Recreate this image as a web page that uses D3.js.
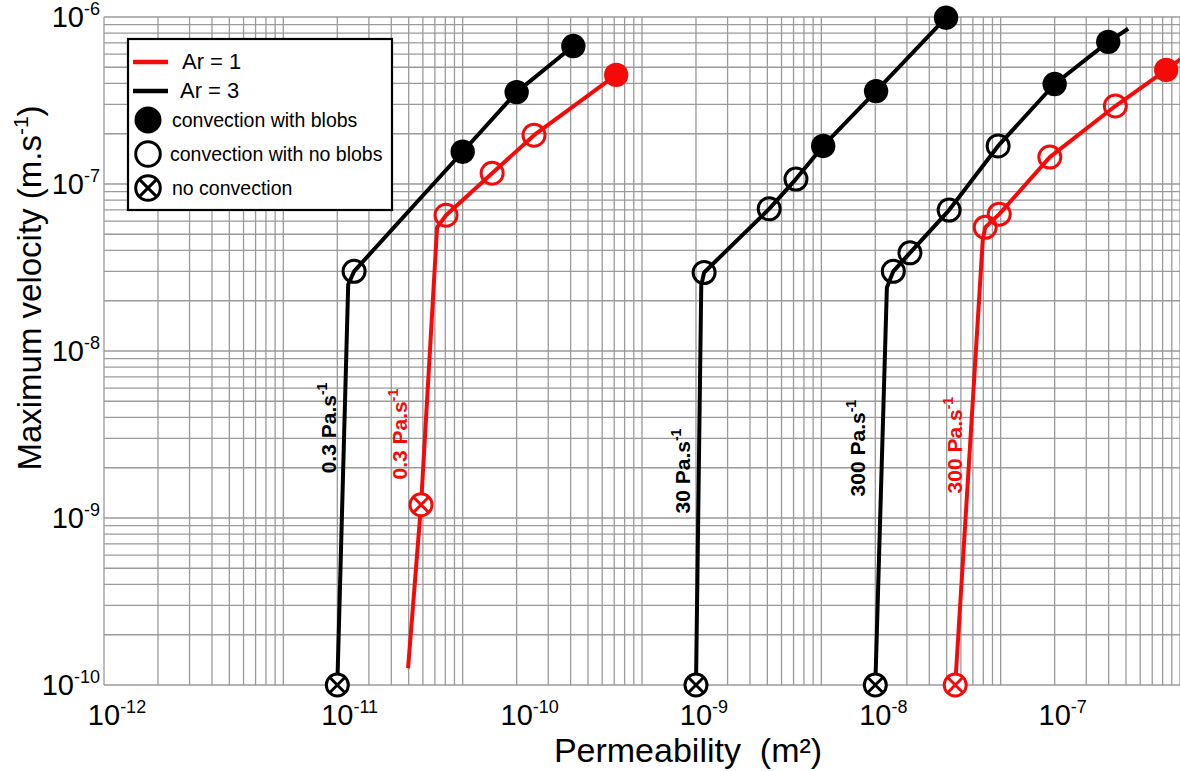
<!DOCTYPE html>
<html><head><meta charset="utf-8">
<script src="https://cdn.jsdelivr.net/npm/d3@7"></script>
<style>
body{margin:0;background:#fff}
svg{display:block;font-family:"Liberation Sans",Arial,sans-serif}
</style>
</head><body>
<svg id="chart" width="1180" height="771"></svg>
<script>
// ---------- axis / tick data ----------
const xTickValues = [1e-12, 1e-11, 1e-10, 1e-9, 1e-8, 1e-7];
const xTickExponents = ["-12", "-11", "-10", "-9", "-8", "-7"];
const yTickValues = [1e-10, 1e-9, 1e-8, 1e-7, 1e-6];
const yTickExponents = ["-10", "-9", "-8", "-7", "-6"];
const xGridMultipliers = [1, 1.5, 2, 2.5, 3, 3.5, 4, 4.5, 5];
const yGridMultipliers = [1, 2, 3, 4, 5, 6, 7, 8, 9];
const xDecades = [-13, -12, -11, -10, -9, -8, -7];
const yDecades = [-10, -9, -8, -7, -6];

// ---------- series (permeability m², max velocity m/s, point type) ----------
// type: "x" = no convection, "open" = convection with no blobs, "filled" = convection with blobs, "" = line vertex only
const ar3Visc03Perm = [1.0e-11, 1.15e-11, 1.24e-11, 5.0e-11, 1.0e-10, 2.07e-10];
const ar3Visc03Vel  = [1.0e-10, 2.5e-8, 3.0e-8, 1.56e-7, 3.55e-7, 6.7e-7];
const ar3Visc03Type = ["x", "", "open", "filled", "filled", "filled"];

const ar1Visc03Perm = [2.48e-11, 2.93e-11, 3.6e-11, 4.04e-11, 7.3e-11, 1.25e-10, 3.59e-10];
const ar1Visc03Vel  = [1.26e-10, 1.2e-9, 5.5e-8, 6.5e-8, 1.16e-7, 1.96e-7, 4.5e-7];
const ar1Visc03Type = ["", "x", "", "open", "open", "open", "filled"];

const ar3Visc30Perm = [1.0e-9, 1.07e-9, 1.11e-9, 2.56e-9, 3.61e-9, 5.12e-9, 1.01e-8, 2.48e-8];
const ar3Visc30Vel  = [1.0e-10, 2.47e-8, 2.95e-8, 7.1e-8, 1.07e-7, 1.69e-7, 3.6e-7, 9.9e-7];
const ar3Visc30Type = ["x", "", "open", "open", "open", "filled", "filled", "filled"];

const ar3Visc300Perm = [1.0e-8, 1.16e-8, 1.26e-8, 1.56e-8, 2.58e-8, 4.84e-8, 1.0e-7, 1.99e-7, 2.57e-7];
const ar3Visc300Vel  = [1.0e-10, 2.4e-8, 3.0e-8, 3.87e-8, 6.98e-8, 1.69e-7, 3.97e-7, 7.1e-7, 8.5e-7];
const ar3Visc300Type = ["x", "", "open", "open", "open", "open", "filled", "filled", ""];

const ar1Visc300Perm = [2.79e-8, 3.97e-8, 4.1e-8, 4.91e-8, 9.4e-8, 2.18e-7, 4.19e-7, 5.7e-7];
const ar1Visc300Vel  = [1.0e-10, 4.56e-8, 5.5e-8, 6.6e-8, 1.45e-7, 2.93e-7, 4.82e-7, 6.2e-7];
const ar1Visc300Type = ["x", "", "open", "open", "open", "open", "filled", ""];

// ---------- annotations ----------
const annotText  = ["0.3 Pa.s", "0.3 Pa.s", "30 Pa.s", "300 Pa.s", "300 Pa.s"];
const annotSup   = ["-1", "-1", "-1", "-1", "-1"];
const annotColor = ["black", "red", "black", "black", "red"];
const annotPerm  = [9.85e-12, 2.45e-11, 9.27e-10, 8.77e-9, 3.05e-8];
const annotVel   = [3.46e-9, 3.18e-9, 1.91e-9, 2.62e-9, 2.73e-9];

// ---------- legend ----------
const legendLabels = ["Ar = 1", "Ar = 3", "convection with blobs", "convection with no blobs", "no convection"];
const legendKinds  = ["line", "line", "filled", "open", "x"];
const legendColors = ["red", "black", "black", "black", "black"];

const RED = "#f50a0a";
const colorOf = c => c === "red" ? RED : "#000";

const curves = [
  {perm: ar3Visc03Perm, vel: ar3Visc03Vel, type: ar3Visc03Type, color: "black"},
  {perm: ar1Visc03Perm, vel: ar1Visc03Vel, type: ar1Visc03Type, color: "red"},
  {perm: ar3Visc30Perm, vel: ar3Visc30Vel, type: ar3Visc30Type, color: "black"},
  {perm: ar3Visc300Perm, vel: ar3Visc300Vel, type: ar3Visc300Type, color: "black"},
  {perm: ar1Visc300Perm, vel: ar1Visc300Vel, type: ar1Visc300Type, color: "red"}
];

// ---------- scales ----------
const svg = d3.select("#chart");
const x = d3.scaleLog().domain([5e-13, 5e-7]).range([104, 1180]);
const y = d3.scaleLog().domain([1e-10, 1e-6]).range([685, 17]);
const [xl, xr] = x.range();
const [yb, yt] = y.range();

// ---------- grid ----------
const eps = 1e-6;
const inDom = (v, s) => {
  const d = s.domain().map(Math.log10), l = Math.log10(v);
  return l >= d[0] - eps && l <= d[1] + eps;
};
const xGrid = [], yGrid = [];
xDecades.forEach(n => xGridMultipliers.forEach(m => { const v = m * Math.pow(10, n); if (inDom(v, x)) xGrid.push(v); }));
yDecades.forEach(n => yGridMultipliers.forEach(m => { const v = m * Math.pow(10, n); if (inDom(v, y)) yGrid.push(v); }));

const grid = svg.append("g").attr("stroke", "#9a9a9a").attr("stroke-width", 1.3);
grid.selectAll("line.v").data(xGrid).join("line").attr("class", "v")
  .attr("x1", d => x(d)).attr("x2", d => x(d)).attr("y1", yt).attr("y2", yb);
grid.selectAll("line.h").data(yGrid).join("line").attr("class", "h")
  .attr("x1", xl).attr("x2", xr).attr("y1", d => y(d)).attr("y2", d => y(d));

// ---------- tick labels ----------
const yLab = svg.append("g").attr("font-size", 29).attr("fill", "#000");
yTickValues.forEach((v, i) => {
  const t = yLab.append("text").attr("x", xl - 4).attr("y", y(v) + 10).attr("text-anchor", "end");
  t.append("tspan").text("10");
  t.append("tspan").attr("font-size", 18).attr("dy", -12).text(yTickExponents[i]);
});
const xLab = svg.append("g").attr("font-size", 29).attr("fill", "#000");
xTickValues.forEach((v, i) => {
  const pos = i === 0 ? xl : x(v);   // the reference sets the first label at the axis origin
  const t = xLab.append("text").attr("y", 725).attr("text-anchor", "start");
  t.append("tspan").text("10");
  t.append("tspan").attr("font-size", 18).attr("dy", -12).text(xTickExponents[i]);
  const w = t.node().getSubStringLength(0, 2);
  t.attr("x", pos - w / 2);
});

// ---------- axis titles ----------
const yt1 = svg.append("text").attr("transform", "translate(41,288) rotate(-90)")
  .attr("text-anchor", "middle").attr("font-size", 33);
yt1.append("tspan").text("Maximum velocity (m.s");
yt1.append("tspan").attr("font-size", 21).attr("dy", -13).text("-1");
yt1.append("tspan").attr("dy", 13).text(")");

svg.append("text").attr("x", 688).attr("y", 762).attr("text-anchor", "middle")
  .attr("font-size", 34).style("white-space", "pre").text("Permeability  (m\u00B2)");

// ---------- curves ----------
const line = d3.line().x(d => x(d[0])).y(d => y(d[1]));
const curveG = svg.append("g");
curves.forEach(c => {
  const pts = c.perm.map((p, i) => [p, c.vel[i], c.type[i]]);
  curveG.append("path").datum(pts).attr("d", line)
    .attr("fill", "none").attr("stroke", colorOf(c.color)).attr("stroke-width", 4)
    .attr("stroke-linejoin", "round");
});

function drawMarker(g, cx, cy, kind, col, r) {
  if (kind === "filled") {
    g.append("circle").attr("cx", cx).attr("cy", cy).attr("r", r).attr("fill", col);
  } else if (kind === "open") {
    g.append("circle").attr("cx", cx).attr("cy", cy).attr("r", r - 1.2)
      .attr("fill", "none").attr("stroke", col).attr("stroke-width", 3);
  } else if (kind === "x") {
    g.append("circle").attr("cx", cx).attr("cy", cy).attr("r", r - 1.2)
      .attr("fill", "#fff").attr("stroke", col).attr("stroke-width", 3);
    const a = (r - 1.2) * 0.68;
    g.append("path").attr("d", `M${cx - a},${cy - a}L${cx + a},${cy + a}M${cx + a},${cy - a}L${cx - a},${cy + a}`)
      .attr("stroke", col).attr("stroke-width", 3);
  }
}
const markG = svg.append("g");
curves.forEach(c => {
  c.perm.forEach((p, i) => {
    if (c.type[i]) drawMarker(markG, x(p), y(c.vel[i]), c.type[i], colorOf(c.color), 12.2);
  });
});

// ---------- annotations ----------
annotText.forEach((s, i) => {
  const t = svg.append("text")
    .attr("transform", `translate(${x(annotPerm[i])},${y(annotVel[i])}) rotate(-90)`)
    .attr("text-anchor", "middle").attr("font-size", 21).attr("font-weight", "bold")
    .attr("fill", colorOf(annotColor[i]));
  t.append("tspan").text(s);
  t.append("tspan").attr("font-size", 14).attr("dy", -9).text(annotSup[i]);
});

// ---------- legend ----------
const lg = svg.append("g");
lg.append("rect").attr("x", 128).attr("y", 39).attr("width", 264).attr("height", 171)
  .attr("fill", "#fff").attr("stroke", "#000").attr("stroke-width", 2.2);
const legY = [62, 91, 120, 154, 188];
const legTextX = [182, 180, 172, 170, 172];
legendLabels.forEach((s, i) => {
  const col = colorOf(legendColors[i]);
  if (legendKinds[i] === "line") {
    lg.append("line").attr("x1", 133).attr("x2", 168).attr("y1", legY[i]).attr("y2", legY[i])
      .attr("stroke", col).attr("stroke-width", 4.5);
  } else {
    drawMarker(lg, 148, legY[i], legendKinds[i], col, legendKinds[i] === "filled" ? 13.5 : 13.5);
  }
  lg.append("text").attr("x", legTextX[i]).attr("y", legY[i] + 7)
    .attr("font-size", i < 2 ? 22 : 19.5).attr("fill", "#000").text(s);
});
</script>
</body></html>
